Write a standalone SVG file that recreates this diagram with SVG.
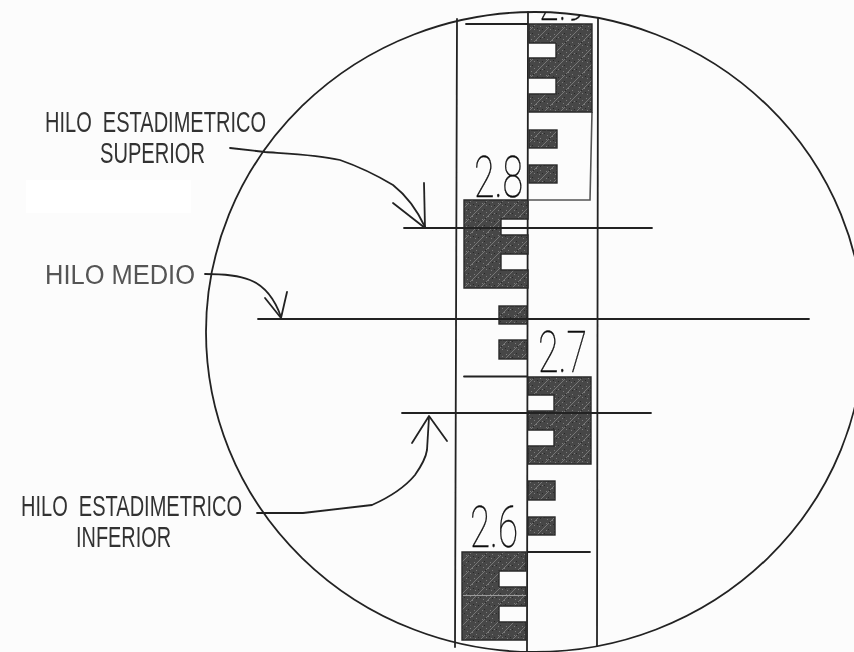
<svg xmlns="http://www.w3.org/2000/svg" width="854" height="652" viewBox="0 0 854 652">
<style>
.ln{fill:none;stroke:#222;stroke-width:1.8;stroke-linecap:round;stroke-linejoin:round}
.th{fill:none;stroke:#555;stroke-width:1.6}
.lb{font-family:"Liberation Sans",Arial,sans-serif;fill:#333;font-size:30px}
.md{font-family:"Liberation Sans",Arial,sans-serif;fill:#555;font-size:27px}
.num{font-family:Roboto,"Liberation Sans",sans-serif;font-weight:100;fill:#111;font-size:58px;stroke:#111;stroke-width:.4px}
.blk{fill:url(#h);stroke:#2a2a2a;stroke-width:1.4}
</style>
<defs>
<pattern id="h" width="16" height="16" patternUnits="userSpaceOnUse">
<rect width="16" height="16" fill="#464646"/>
<path d="M0 16L16 0" stroke="#8d8d8d" stroke-width=".7"/>
<path d="M2 2h1v1h-1zM6 4h1v1h-1zM10 2h1v1h-1zM14 5h1v1h-1zM3 7h1v1h-1zM8 8h1v1h-1zM12 10h1v1h-1zM2 11h1v1h-1zM6 13h1v1h-1zM11 14h1v1h-1z" fill="#7d7d7d"/>
<path d="M4 1h1v1h-1zM0 5h1v1h-1zM12 6h1v1h-1zM5 10h1v1h-1zM14 13h1v1h-1zM9 12h1v1h-1z" fill="#2a2a2a"/>
</pattern>
<clipPath id="lensClip"><ellipse cx="535" cy="332" rx="329" ry="320"/></clipPath>
<filter id="soft" x="0" y="0" width="100%" height="100%"><feGaussianBlur stdDeviation=".45"/></filter>
</defs>
<rect width="854" height="652" fill="#fcfcfc"/>
<rect x="26" y="180" width="165" height="33" fill="#fff"/>
<g filter="url(#soft)">
<g id="lens"><ellipse cx="535" cy="332" rx="329" ry="320" class="ln"/></g>
<g id="staff">
<path class="ln" d="M457 19L455 647M598 18L597 646M528 12L527 652"/>
<path class="ln" d="M466 24H528M464 376.500H527M528 552H590"/>
<path class="th" d="M592 112L590 200H529"/>
<path class="blk" d="M529 24H592V112H529V94H556V78H529V58H556V43H529Z"/>
<rect class="blk" x="529" y="130" width="28" height="18"/>
<rect class="blk" x="529" y="165" width="28" height="18"/>
<path class="blk" d="M528 200H464V288H528V270H501V254H528V235H501V219H528Z"/>
<rect class="blk" x="499" y="306" width="28" height="18"/>
<rect class="blk" x="499" y="340" width="28" height="19"/>
<path class="blk" d="M528 377H591V464H528V446H554V430H528V411H554V395H528Z"/>
<rect class="blk" x="528" y="481" width="27" height="19"/>
<rect class="blk" x="528" y="517" width="27" height="18"/>
<path class="blk" d="M526 552H462V640H526V622H499V606H526V587H499V571H526Z"/>
<path d="M463 595.500H526" stroke="#9a9a9a" stroke-width="1" fill="none"/>
<text class="num" x="474" y="197" textLength="49" lengthAdjust="spacingAndGlyphs">2.8</text>
<text class="num" x="538" y="372" textLength="49" lengthAdjust="spacingAndGlyphs">2.7</text>
<text class="num" x="470" y="547" textLength="48" lengthAdjust="spacingAndGlyphs">2.6</text>
<g clip-path="url(#lensClip)"><text class="num" x="539" y="20" textLength="47" lengthAdjust="spacingAndGlyphs">2.9</text></g>
</g>
<g id="hilo-lines">
<path class="ln" d="M404 228H652M258 319H809M402 413H651"/>
</g>
<g id="connectors">
<path class="ln" d="M230 148L265 152C295 154 320 155 340 160C360 167 378 176 393 185C407 196 418 212 425 227"/>
<path class="ln" d="M424 183L425 228L393 203"/>
<path class="ln" d="M205 274C225 274 240 276 250 280C265 286 275 300 281 317"/>
<path class="ln" d="M287 292L281 318L265 298"/>
<path class="ln" d="M257 513H303L372 505C390 497 405 487 415 475C422 465 426 457 427 450L429 417"/>
<path class="ln" d="M412 443L429 416L447 441"/>
</g>
<g id="label-superior">
<text class="lb" x="45" y="132" textLength="221" lengthAdjust="spacingAndGlyphs" xml:space="preserve">HILO  ESTADIMETRICO</text>
<text class="lb" x="100" y="163" textLength="105" lengthAdjust="spacingAndGlyphs">SUPERIOR</text>
</g>
<g id="label-medio"><text class="md" x="45" y="284" textLength="150" lengthAdjust="spacingAndGlyphs">HILO MEDIO</text></g>
<g id="label-inferior">
<text class="lb" x="21" y="516" textLength="221" lengthAdjust="spacingAndGlyphs" xml:space="preserve">HILO  ESTADIMETRICO</text>
<text class="lb" x="76" y="547" textLength="95" lengthAdjust="spacingAndGlyphs">INFERIOR</text>
</g>
</g>
</svg>
